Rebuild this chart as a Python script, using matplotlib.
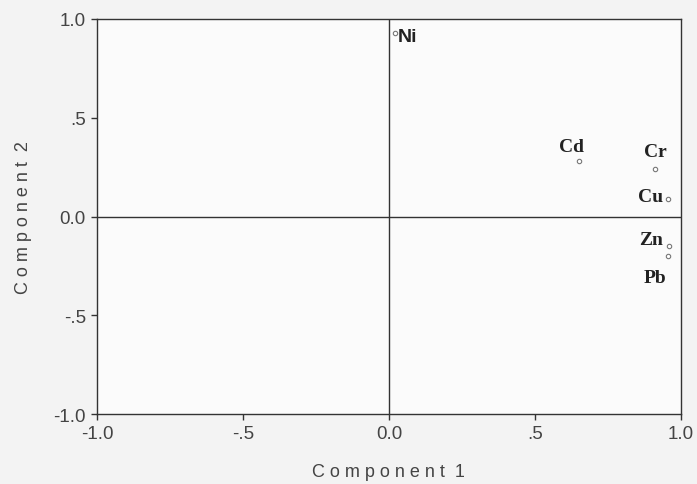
import numpy as np
import matplotlib.pyplot as plt

# component loadings
elements = ['Ni', 'Cd', 'Cr', 'Cu', 'Zn', 'Pb']
comp1 = [0.02, 0.65, 0.91, 0.955, 0.96, 0.955]
comp2 = [0.93, 0.28, 0.24, 0.09, -0.15, -0.20]

# label offsets in pixels (dx, dy) and alignment
offsets = {
    'Ni': (3, -4, 'left', 'center'),
    'Cd': (-7, 15, 'center', 'center'),
    'Cr': (1, 18, 'center', 'center'),
    'Cu': (-5, 2, 'right', 'center'),
    'Zn': (-6, 7, 'right', 'center'),
    'Pb': (-13, -21, 'center', 'center'),
}

ticks = [-1.0, -0.5, 0.0, 0.5, 1.0]
tick_labels = ['-1.0', '-.5', '0.0', '.5', '1.0']

fig = plt.figure(figsize=(6.97, 4.85), dpi=100, facecolor='#f3f3f3')
ax = fig.add_axes([0.139, 0.144, 0.838, 0.815], facecolor='#fbfbfb')

ax.axhline(0, color='#333333', lw=1.0, zorder=1)
ax.axvline(0, color='#333333', lw=1.0, zorder=1)

ax.scatter(comp1, comp2, s=10, facecolors='white', edgecolors='#777777',
           linewidths=0.8, zorder=3)

for name, x, y in zip(elements, comp1, comp2):
    dx, dy, ha, va = offsets[name]
    fam = 'Liberation Sans' if name == 'Ni' else 'Liberation Serif'
    ax.annotate(name, (x, y), xytext=(dx, dy), textcoords='offset pixels',
                ha=ha, va=va, fontsize=14, fontweight='bold', family=fam,
                color='#222222')

ax.set_xlim(-1.0, 1.0)
ax.set_ylim(-1.0, 1.0)
ax.set_xticks(ticks)
ax.set_xticklabels(tick_labels)
ax.set_yticks(ticks)
ax.set_yticklabels(tick_labels)
ax.tick_params(direction='out', length=4, width=1, color='#333333',
               labelsize=13.5, labelcolor='#444444', pad=4)
for lab in ax.get_xticklabels() + ax.get_yticklabels():
    lab.set_family('Liberation Sans')
for sp in ax.spines.values():
    sp.set_color('#333333')
    sp.set_linewidth(1.0)

ax.set_xlabel('C o m p o n e n t  1', fontsize=13, color='#444444',
              family='Liberation Sans', labelpad=15)
ax.set_ylabel('C o m p o n e n t  2', fontsize=13, color='#444444',
              family='Liberation Sans', labelpad=15)

fig.savefig('out.png', dpi=100, facecolor=fig.get_facecolor())
